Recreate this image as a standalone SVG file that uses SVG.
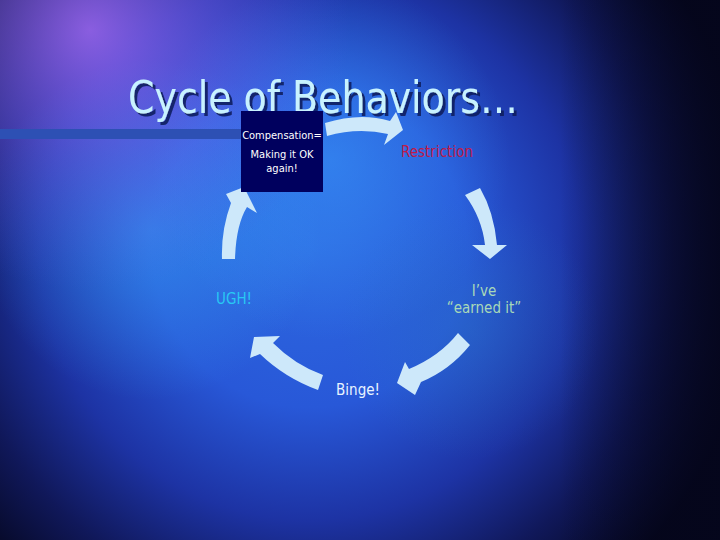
<svg xmlns="http://www.w3.org/2000/svg" width="720" height="540" viewBox="0 0 720 540">
  <defs>
    <radialGradient id="bg" cx="310" cy="250" r="450" gradientUnits="userSpaceOnUse">
      <stop offset="0" stop-color="#2d68e0"/>
      <stop offset="0.35" stop-color="#2858d8"/>
      <stop offset="0.6" stop-color="#1d33a4"/>
      <stop offset="0.8" stop-color="#10185a"/>
      <stop offset="1" stop-color="#04051a"/>
    </radialGradient>
    <radialGradient id="purple" cx="90" cy="30" r="260" gradientUnits="userSpaceOnUse">
      <stop offset="0" stop-color="#b070ff" stop-opacity="0.75"/>
      <stop offset="0.5" stop-color="#8060f0" stop-opacity="0.4"/>
      <stop offset="1" stop-color="#6050e0" stop-opacity="0"/>
    </radialGradient>
    <radialGradient id="cyan1" cx="150" cy="230" r="170" gradientUnits="userSpaceOnUse">
      <stop offset="0" stop-color="#38aaf8" stop-opacity="0.5"/>
      <stop offset="1" stop-color="#38aaf8" stop-opacity="0"/>
    </radialGradient>
    <radialGradient id="cyan2" cx="330" cy="160" r="180" gradientUnits="userSpaceOnUse">
      <stop offset="0" stop-color="#3aa0ff" stop-opacity="0.5"/>
      <stop offset="1" stop-color="#3aa0ff" stop-opacity="0"/>
    </radialGradient>
    <radialGradient id="teal" cx="470" cy="330" r="130" gradientUnits="userSpaceOnUse">
      <stop offset="0" stop-color="#2a78c0" stop-opacity="0.35"/>
      <stop offset="1" stop-color="#2a78c0" stop-opacity="0"/>
    </radialGradient>
    <linearGradient id="rightDark" x1="0" y1="0" x2="1" y2="0">
      <stop offset="0" stop-color="#05061c" stop-opacity="0"/>
      <stop offset="1" stop-color="#05061c" stop-opacity="0.85"/>
    </linearGradient>
    <filter id="shadow" x="-5%" y="-20%" width="110%" height="140%">
      <feDropShadow dx="3" dy="3" stdDeviation="0.5" flood-color="#0a1a60" flood-opacity="0.9"/>
    </filter>
    <style>
      .arrow { fill: #cde8fa; }
      .lbl { font-family: "DejaVu Sans Condensed", "Liberation Sans", sans-serif; font-size: 15px; text-anchor: middle; }
      .box { font-family: "DejaVu Sans Condensed", "Liberation Sans", sans-serif; font-size: 11px; fill: #ffffff; text-anchor: middle; }
    </style>
  </defs>

  <!-- background -->
  <rect width="720" height="540" fill="url(#bg)"/>
  <rect width="720" height="540" fill="url(#cyan1)"/>
  <rect width="720" height="540" fill="url(#cyan2)"/>
  <rect width="720" height="540" fill="url(#teal)"/>
  <rect width="720" height="540" fill="url(#purple)"/>
  <rect x="560" y="0" width="160" height="540" fill="url(#rightDark)"/>

  <!-- title bar line -->
  <rect x="0" y="129" width="242" height="10" fill="#2d50b4"/>

  <!-- title -->
  <text x="128" y="113" font-family="'DejaVu Sans Condensed', 'Liberation Sans', sans-serif" font-size="44" fill="#c8f2ff" textLength="390" lengthAdjust="spacingAndGlyphs" filter="url(#shadow)">Cycle of Behaviors…</text>

  <!-- connectors -->
  <g id="connectors">
    <path class="arrow" d="M325,123 Q360,112 390,121 L396,112 L403,130 L384,145 L388,134 Q358,127 327,136 Z"/>
    <path class="arrow" d="M465,195 L480,188 Q494,212 497,245 L507,245 L490,259 L472,245 L485,245 Q482,218 465,195 Z"/>
    <path class="arrow" d="M458,333 L470,345 Q450,370 421,382 L415,395 L397,383 L405,362 L409,369 Q440,356 458,333 Z"/>
    <path class="arrow" d="M323,375 L318,390 Q285,378 260,354 L250,358 L254,337 L280,336 L273,343 Q295,365 323,375 Z"/>
    <path class="arrow" d="M222,259 L235,259 Q236,225 247,207 L257,213 L244,187 L226,194 L231,203 Q221,230 222,259 Z"/>
  </g>

  <!-- nodes -->
  <g id="compensation">
    <rect x="241" y="111" width="82" height="81" fill="#00005e"/>
    <text class="box" x="282" y="139">Compensation=</text>
    <text class="box" x="282" y="158">Making it OK</text>
    <text class="box" x="282" y="172">again!</text>
  </g>
  <g id="restriction">
    <text class="lbl" x="437" y="157" fill="#c01a48">Restriction</text>
  </g>
  <g id="earned">
    <text class="lbl" x="484" y="296" fill="#a8d8b8">I’ve</text>
    <text class="lbl" x="484" y="313" fill="#a8d8b8">“earned it”</text>
  </g>
  <g id="binge">
    <text class="lbl" x="358" y="395" fill="#e8f4ff">Binge!</text>
  </g>
  <g id="ugh">
    <text class="lbl" x="234" y="304" fill="#28c8f4">UGH!</text>
  </g>
</svg>
